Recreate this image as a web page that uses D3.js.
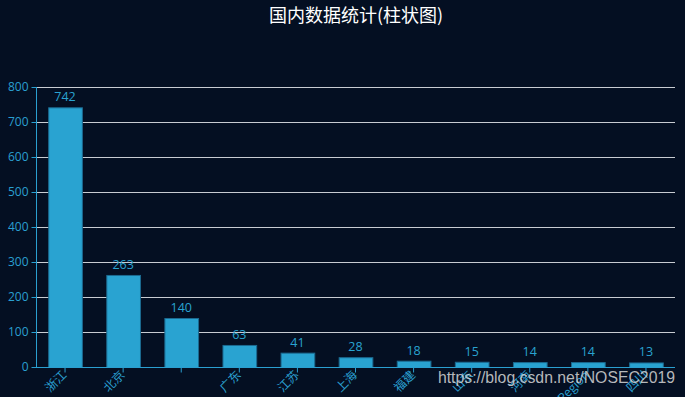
<!DOCTYPE html>
<html><head><meta charset="utf-8">
<script src="https://cdn.jsdelivr.net/npm/d3@7"></script>
<style>html,body{margin:0;padding:0;background:#040f22;}svg{display:block;}</style>
</head><body>
<svg id="c" width="685" height="397"></svg>
<script>
const titleText = "国内数据统计(柱状图)";
const categories = ["浙江","北京","","广东","江苏","上海","福建","山东","河南","Taiwan Region","四川"];
const values = [742,263,140,63,41,28,18,15,14,14,13];
const yTicks = [0,100,200,300,400,500,600,700,800];
const watermark = "https://blog.csdn.net/NOSEC2019";

const svg = d3.select("#c");
const W = 685, H = 397;
const m = {left:36, right:10, top:87, bottom:30};
const blue = "#29a3d1";
const axisBlue = "#2a9fd0";

svg.append("rect").attr("width",W).attr("height",H).attr("fill","#040f22");

const x = d3.scaleBand().domain(categories.map((d,i)=>i)).range([m.left, W-m.right]).paddingInner(0.42).paddingOuter(0.21);
const xb = d3.scaleBand().domain(categories.map((d,i)=>i)).range([m.left, W-m.right]);
const y = d3.scaleLinear().domain([0,800]).range([H-m.bottom, m.top]);

// gridlines
svg.append("g").selectAll("line").data(yTicks.filter(t=>t>0)).join("line")
  .attr("x1", m.left).attr("x2", W-m.right)
  .attr("y1", d=>y(d)+0.5).attr("y2", d=>y(d)+0.5)
  .attr("stroke","#c8ccd2").attr("stroke-width",1);

// bars
svg.append("g").selectAll("rect").data(values).join("rect")
  .attr("x",(d,i)=>x(i)+0.5).attr("width",x.bandwidth())
  .attr("y",d=>y(d)+0.5).attr("height",d=>y(0)-y(d))
  .attr("fill",blue).attr("stroke","#1c6a90").attr("stroke-width",1);

// value labels
svg.append("g").selectAll("text").data(values).join("text")
  .attr("x",(d,i)=>xb(i)+xb.bandwidth()/2).attr("y",d=>y(d)-6)
  .attr("text-anchor","middle").attr("fill",blue)
  .attr("font-family","'Open Sans','Noto Sans',sans-serif").attr("font-size",12.5)
  .text(d=>d);

// y axis
const ya = d3.axisLeft(y).tickValues(yTicks).tickSize(5).tickPadding(3);
const gy = svg.append("g").attr("transform",`translate(${m.left+0.5},0)`).call(ya);
gy.select(".domain").attr("stroke",axisBlue).attr("d",`M0,${y(0)}V${y(800)}`);
gy.selectAll(".tick line").attr("stroke",axisBlue);
gy.selectAll(".tick text").attr("fill",axisBlue).attr("font-size",12)
  .attr("font-family","'Open Sans','Noto Sans',sans-serif");

// x axis
const xa = d3.axisBottom(xb).tickSize(5).tickFormat(i=>categories[i]);
const gx = svg.append("g").attr("transform",`translate(0,${y(0)+0.5})`).call(xa);
gx.select(".domain").attr("stroke",axisBlue).attr("d",`M${m.left},0H${W-m.right}`);
gx.selectAll(".tick line").attr("stroke",axisBlue);
gx.selectAll(".tick text").attr("fill",axisBlue).attr("font-size",12)
  .attr("font-family","'Noto Sans CJK SC','Open Sans',sans-serif")
  .attr("text-anchor","end").attr("dy",null).attr("y",null)
  .attr("transform","translate(0,6) rotate(-45)").attr("dominant-baseline","middle");

// title
svg.append("text").attr("x",356).attr("y",22).attr("text-anchor","middle")
  .attr("fill","#ffffff").attr("font-size",18)
  .attr("font-family","'Noto Sans CJK SC',sans-serif").text(titleText);

// watermark
svg.append("text").attr("x",675).attr("y",383).attr("text-anchor","end")
  .attr("fill","#d8d8d8").attr("fill-opacity",0.85).attr("font-size",15.8)
  .attr("font-family","'Liberation Sans',Arial,sans-serif").text(watermark);
</script>
</body></html>
